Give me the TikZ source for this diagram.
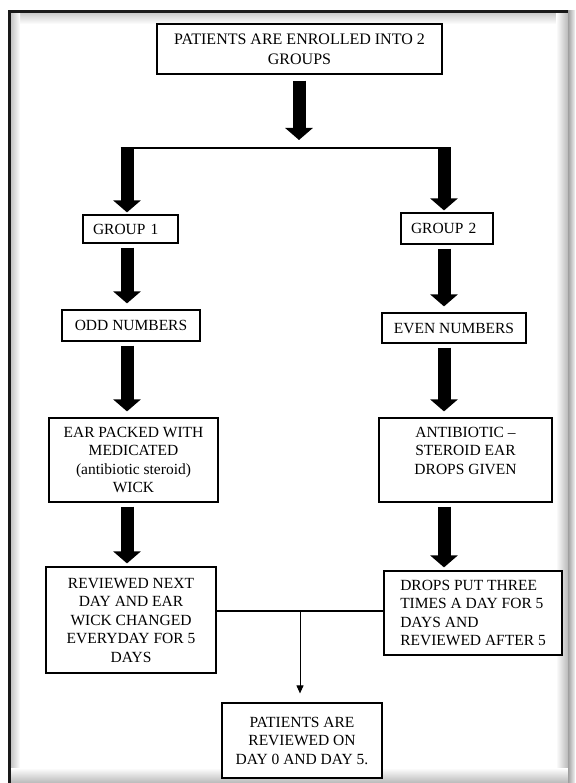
\documentclass[tikz,border=0pt]{standalone}
\usepackage{fontspec}
\setmainfont{Liberation Serif}
\usetikzlibrary{positioning,calc,arrows.meta}
\tikzset{
    flowbox/.style={draw=black, line width=1.2pt, fill=white, inner xsep=6pt, inner ysep=2pt,
        font=\fontsize{15.5}{18.5}\selectfont, align=center},
    bigarrow/.style={draw=black, line width=13pt, -{Triangle[width=27pt, length=12pt]},
        shorten <=4pt, shorten >=6pt},
    thinarrow/.style={draw=black, line width=1pt, -{Triangle[width=7pt, length=8pt]}},
    joinline/.style={draw=black, line width=1.5pt}
}

\begin{document}
\begin{tikzpicture}[x=1pt, y=-1pt]
    \useasboundingbox (0,0) rectangle (575,783);
    % page border
    \shade[top color=gray!45, bottom color=white] (11,12) rectangle (568,24);
    \shade[left color=gray!45, right color=white] (11,12) rectangle (20,783);
    \shade[left color=white, right color=gray!55] (556,12) rectangle (568,783);
    \shade[top color=white, bottom color=gray!55] (11,768) rectangle (568,783);
    \shade[left color=gray!75, right color=gray!10] (568,11) rectangle (575,783);
    \draw[line width=2.5pt, black!90] (9.5,783) |- (568,11.5);

    % columns
    \coordinate (lcol) at (127,0);
    \coordinate (rcol) at (444,0);
    \coordinate (split) at (299,148);
    \coordinate (merge) at (300,611);

    % start
    \node[flowbox, minimum width=285pt, minimum height=50pt,
        font=\fontsize{16}{20}\selectfont] (enrol) at (299.5,49)
        {PATIENTS ARE ENROLLED INTO 2\\GROUPS};

    % group 1
    \node[flowbox, text width=75pt, inner xsep=10pt, minimum height=28pt, align=left]
        (grpa) at (130.5,229) {GROUP 1};
    \node[flowbox, minimum width=138pt, minimum height=31pt] (odd) at (131,325.5)
        {ODD NUMBERS};
    \node[flowbox, minimum width=169pt, minimum height=84pt] (wick) at (133.5,460)
        {EAR PACKED WITH\\MEDICATED\\(antibiotic steroid)\\WICK};
    \node[flowbox, minimum width=170pt, minimum height=106pt] (daily) at (131,620)
        {REVIEWED NEXT\\DAY AND EAR\\WICK CHANGED\\EVERYDAY FOR 5\\DAYS};

    % group 2
    \node[flowbox, text width=72pt, inner xsep=10pt, minimum height=31pt, align=left]
        (grpb) at (447,228.5) {GROUP 2};
    \node[flowbox, minimum width=144pt, minimum height=30pt] (even) at (454,328)
        {EVEN NUMBERS};
    \node[flowbox, minimum width=173pt, minimum height=84pt] (drops) at (465.5,460)
        {ANTIBIOTIC –\\STEROID EAR\\DROPS GIVEN\\\mbox{}};
    \node[flowbox, minimum width=178pt, minimum height=84pt, align=left] (thrice) at (473,613)
        {DROPS PUT THREE\\TIMES A DAY FOR 5\\DAYS AND\\REVIEWED AFTER 5};

    % end
    \node[flowbox, minimum width=160pt, minimum height=75pt] (review) at (302,740.5)
        {PATIENTS ARE\\REVIEWED ON\\DAY 0 AND DAY 5.};

    % arrows
    \draw[bigarrow, shorten <=6pt, shorten >=8pt] (enrol.south -| split) -- (split);
    \draw[joinline] ([xshift=-6.5pt]split -| lcol) -- ([xshift=6.5pt]split -| rcol);
    \draw[bigarrow, shorten <=0pt, shorten >=2pt] (split -| lcol) -- (grpa.north -| lcol);
    \draw[bigarrow, shorten <=0pt, shorten >=2pt] (split -| rcol) -- (grpb.north -| rcol);
    \draw[bigarrow] (grpa.south -| lcol) -- (odd.north -| lcol);
    \draw[bigarrow] (grpb.south -| rcol) -- (even.north -| rcol);
    \draw[bigarrow] (odd.south -| lcol) -- (wick.north -| lcol);
    \draw[bigarrow] (even.south -| rcol) -- (drops.north -| rcol);
    \draw[bigarrow, shorten >=3pt] (wick.south -| lcol) -- (daily.north -| lcol);
    \draw[bigarrow, shorten >=3pt] (drops.south -| rcol) -- (thrice.north -| rcol);
    \draw[joinline] (daily.east |- merge) -- (thrice.west |- merge);
    \draw[thinarrow, shorten >=9pt] (merge) -- (merge |- review.north);
\end{tikzpicture}
\end{document}
